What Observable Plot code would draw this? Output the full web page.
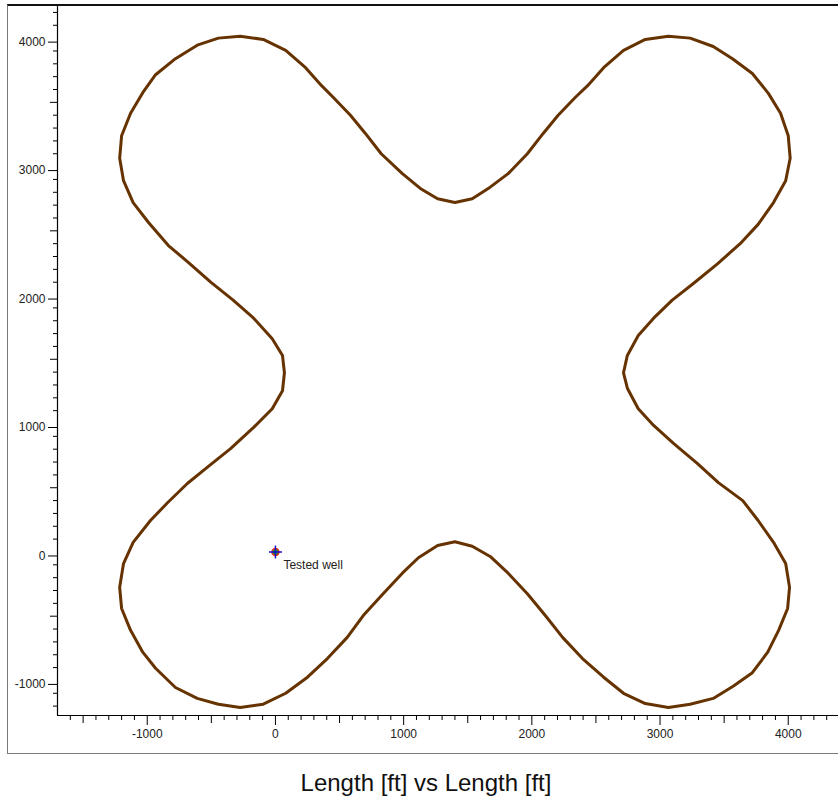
<!DOCTYPE html>
<html>
<head>
<meta charset="utf-8">
<script src="https://cdn.jsdelivr.net/npm/d3@7"></script>
<script src="https://cdn.jsdelivr.net/npm/@observablehq/plot@0.6"></script>
<style>
  html, body { margin: 0; padding: 0; background: #fff; overflow: hidden; }
  body { width: 838px; height: 804px; position: relative; font-family: "Liberation Sans", Arial, sans-serif; }
  #frame { position: absolute; left: 7px; top: 4px; width: 870px; height: 750px; box-sizing: border-box;
           border-left: 1px solid #7a7a7a; border-bottom: 1px solid #7a7a7a; border-top: 2px solid #111; }
  #chart { position: absolute; left: 0; top: 0; }
  #title { position: absolute; left: 0; top: 768px; width: 852px; text-align: center;
           font-size: 24px; line-height: 30px; color: #111; }
</style>
</head>
<body>
<div id="frame"></div>
<div id="chart"></div>
<div id="title">Length [ft] vs Length [ft]</div>
<script>
// Boundary polyline (ft), traced counter-clockwise starting at the top notch
const boundaryX = [1400,1265,1130,990,825,700,585,450,360,235,80,-95,-275,-445,-610,-780,-935,-1035,-1130,-1200,
  -1215,-1185,-1110,-990,-835,-680,-505,-330,-170,-25,55,70,55,-25,-170,-350,-530,-685,-840,-975,
  -1110,-1185,-1215,-1200,-1130,-1035,-935,-780,-610,-445,-275,-95,80,250,405,560,685,840,990,1115,
  1265,1400,1535,1675,1815,1965,2105,2240,2395,2560,2715,2885,3065,3235,3415,3570,3720,3840,3925,3995,
  4010,3980,3885,3765,3645,3455,3290,3105,2950,2830,2745,2715,2745,2830,2950,3095,3260,3450,3625,3765,
  3885,3980,4015,4000,3940,3845,3720,3565,3415,3235,3065,2885,2715,2560,2435,2340,2205,2090,1965,1815,
  1675,1535];
const boundaryY = [2720,2750,2830,2945,3100,3260,3400,3540,3630,3770,3905,3990,4015,4000,3945,3840,3715,3575,3415,3240,
  3065,2890,2720,2565,2385,2255,2100,1960,1820,1660,1530,1395,1255,1115,970,805,660,535,385,245,
  75,-90,-275,-440,-610,-780,-905,-1055,-1140,-1185,-1210,-1185,-1100,-975,-830,-665,-495,-325,-165,-45,
  50,80,45,-35,-165,-325,-495,-665,-830,-975,-1100,-1180,-1210,-1185,-1140,-1045,-940,-780,-610,-440,
  -275,-90,75,245,400,540,690,845,985,1115,1275,1395,1530,1685,1820,1960,2090,2245,2400,2550,
  2720,2890,3065,3240,3415,3570,3725,3840,3935,4000,4015,3990,3905,3770,3630,3540,3400,3260,3100,2945,
  2840,2750];

// Well location
const wellX = [0];
const wellY = [0];
const wellName = ["Tested well"];

// Axis extents and tick values
const xDomain = [-1700, 4392];
const yDomain = [-1273, 4254];
const xMajor = [-1000, 0, 1000, 2000, 3000, 4000];
const yMajor = [-1000, 0, 1000, 2000, 3000, 4000];
const xMid = [-1500, -500, 500, 1500, 2500, 3500];
const yMid = [-500, 500, 1500, 2500, 3500];
const xMinor = d3.range(-1600, 4301, 100).filter(v => v % 500 !== 0);
const yMinor = d3.range(-1200, 4201, 100).filter(v => v % 500 !== 0);

const boundary = boundaryX.map((x, i) => ({x, y: boundaryY[i]}));
boundary.push(boundary[0]);
const wells = wellX.map((x, i) => ({x, y: wellY[i], name: wellName[i]}));

// Crosshair glyph for the well marker
const crosshair = {
  draw(ctx, size) {
    const r = Math.sqrt(size / Math.PI);
    ctx.moveTo(-r, 0); ctx.lineTo(r, 0);
    ctx.moveTo(0, -r); ctx.lineTo(0, r);
  }
};

const ink = "#222";
const chart = Plot.plot({
  width: 838,
  height: 760,
  marginLeft: 57,
  marginRight: 0,
  marginTop: 5,
  marginBottom: 45,
  style: {background: "transparent", fontFamily: "'Liberation Sans', Arial, sans-serif", fontSize: "12px", color: ink},
  x: {domain: xDomain},
  y: {domain: yDomain},
  marks: [
    // minor / mid / major ticks on the x axis
    Plot.axisX(xMinor, {tickSize: 5, fill: "none", label: null, stroke: "#000"}),
    Plot.axisX(xMid, {tickSize: 8, fill: "none", label: null, stroke: "#000"}),
    Plot.axisX(xMajor, {tickSize: 10, tickPadding: 4, label: null, stroke: "#000", fill: ink, tickFormat: d => String(d)}),
    // minor / mid / major ticks on the y axis
    Plot.axisY(yMinor, {tickSize: 4, fill: "none", label: null, stroke: "#000"}),
    Plot.axisY(yMid, {tickSize: 7, fill: "none", label: null, stroke: "#000"}),
    Plot.axisY(yMajor, {tickSize: 9, tickPadding: 3, label: null, stroke: "#000", fill: ink, dy: 4, tickFormat: d => String(d)}),
    Plot.ruleX([xDomain[0]], {stroke: "#000", strokeWidth: 1.2}),
    Plot.ruleY([yDomain[0]], {stroke: "#000", strokeWidth: 1.2}),
    // boundary outline
    Plot.line(boundary, {x: "x", y: "y", stroke: "#663300", strokeWidth: 3, strokeLinejoin: "round"}),
    // well marker and label
    Plot.dot(wells, {x: "x", y: "y", r: 3.5, fill: "#1a9a1a", stroke: "#e52b2b", strokeWidth: 1.5}),
    Plot.dot(wells, {x: "x", y: "y", r: 6.5, symbol: crosshair, fill: "none", stroke: "#1010d0", strokeWidth: 1.4}),
    Plot.text(wells, {x: "x", y: "y", text: "name", textAnchor: "start", dx: 8, dy: 13, fill: ink, fontSize: 12})
  ]
});
document.getElementById("chart").appendChild(chart);
</script>
</body>
</html>
